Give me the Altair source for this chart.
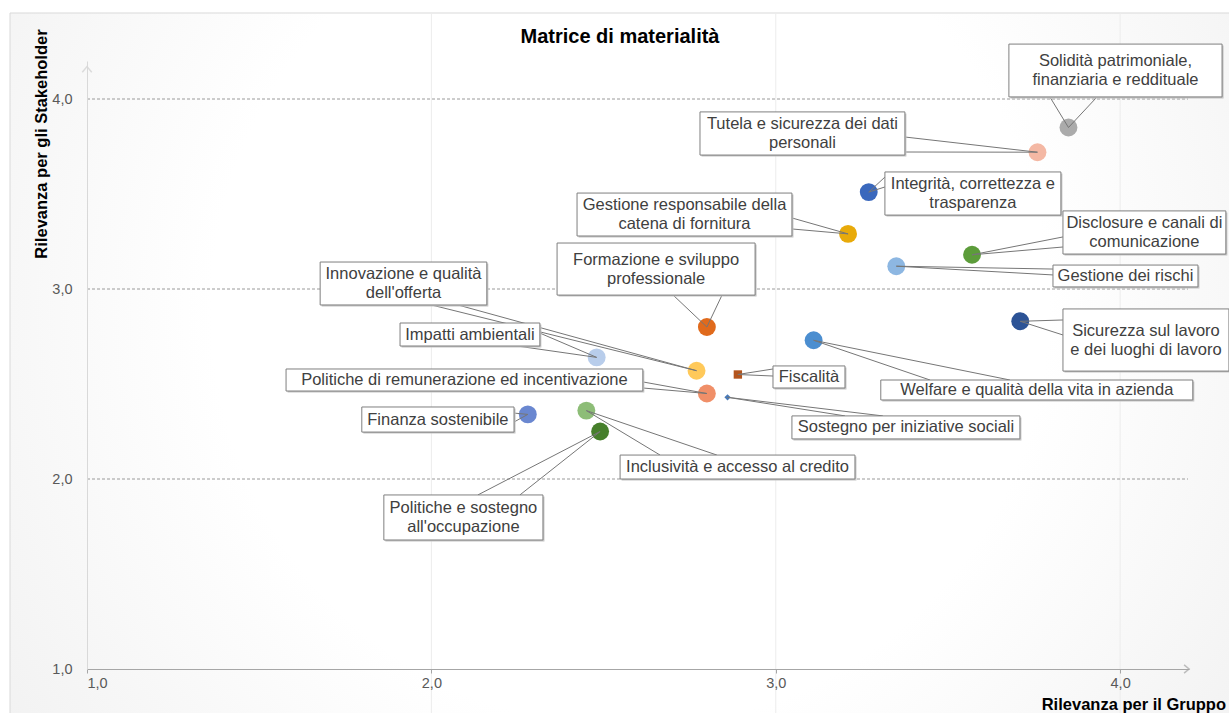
import altair as alt
import pandas as pd

# ---------------- data ----------------
topics = [
    "Solidità patrimoniale, finanziaria e reddituale",
    "Tutela e sicurezza dei dati personali",
    "Integrità, correttezza e trasparenza",
    "Gestione responsabile della catena di fornitura",
    "Disclosure e canali di comunicazione",
    "Gestione dei rischi",
    "Formazione e sviluppo professionale",
    "Sicurezza sul lavoro e dei luoghi di lavoro",
    "Welfare e qualità della vita in azienda",
    "Innovazione e qualità dell'offerta",
    "Impatti ambientali",
    "Fiscalità",
    "Politiche di remunerazione ed incentivazione",
    "Sostegno per iniziative sociali",
    "Finanza sostenibile",
    "Inclusività e accesso al credito",
    "Politiche e sostegno all'occupazione",
]
label_text = [
    "Solidità patrimoniale,\nfinanziaria e reddituale",
    "Tutela e sicurezza dei dati\npersonali",
    "Integrità,  correttezza e\ntrasparenza",
    "Gestione responsabile della\ncatena di fornitura",
    "Disclosure e canali di\ncomunicazione",
    "Gestione dei rischi",
    "Formazione e sviluppo\nprofessionale",
    "Sicurezza sul lavoro\ne dei luoghi di lavoro",
    "Welfare e qualità della vita in azienda",
    "Innovazione  e qualità\ndell'offerta",
    "Impatti ambientali",
    "Fiscalità",
    "Politiche di remunerazione ed incentivazione",
    "Sostegno per iniziative  sociali",
    "Finanza sostenibile",
    "Inclusività  e accesso al credito",
    "Politiche e sostegno\nall'occupazione",
]
rilevanza_gruppo = [3.85, 3.76, 3.27, 3.21, 3.57, 3.35, 2.80, 3.71, 3.11,
                    2.77, 2.48, 2.89, 2.80, 2.86, 2.28, 2.45, 2.49]
rilevanza_stakeholder = [3.85, 3.72, 3.51, 3.29, 3.18, 3.12, 2.80, 2.83, 2.73,
                         2.57, 2.64, 2.55, 2.45, 2.43, 2.34, 2.36, 2.25]

tick_values = [1, 2, 3, 4]
grid_values = [2, 3, 4]

# ---------------- styles ----------------
point_colors = ["#ababab", "#f4b8a4", "#3a68bd", "#e8aa0a", "#5c9c3a", "#8db7e2",
                "#e06a1c", "#2c5396", "#4b8ed0", "#ffc95a", "#b8cdeb", "#b3541d",
                "#f08f68", "#4a7ab8", "#6a87d0", "#8dbd77", "#467f2b"]
point_shapes = ["circle"] * 11 + ["square", "circle", "diamond", "circle", "circle", "circle"]
point_sizes = [320] * 11 + [70, 320, 40, 320, 320, 320]

# ---------------- callout layout (data units) ----------------
box_left = [3.677, 2.780, 3.317, 2.423, 3.834, 3.805, 2.365, 3.834, 3.305,
            1.677, 1.909, 2.992, 1.578, 3.047, 1.798, 2.548, 1.862]
box_right = [4.296, 3.375, 3.828, 3.047, 4.307, 4.226, 2.940, 4.316, 4.211,
             2.161, 2.315, 3.201, 2.614, 3.709, 2.240, 3.230, 2.324]
box_top = [4.289, 3.932, 3.616, 3.505, 3.411, 3.126, 3.242, 2.895, 2.521,
           3.142, 2.821, 2.595, 2.579, 2.332, 2.379, 2.126, 1.916]
box_bottom = [4.011, 3.705, 3.389, 3.279, 3.184, 3.011, 2.968, 2.568, 2.416,
              2.916, 2.700, 2.479, 2.463, 2.211, 2.247, 2.000, 1.679]
wedge_a_x = [3.796, 3.375, 3.317, 3.047, 3.834, 3.805, 2.702, 3.834, 3.448,
             2.000, 2.315, 2.992, 2.614, 3.201, 2.240, 2.664, 2.135]
wedge_a_y = [4.011, 3.800, 3.589, 3.374, 3.274, 3.105, 2.968, 2.837, 2.521,
             2.916, 2.768, 2.579, 2.511, 2.332, 2.347, 2.126, 1.916]
wedge_b_x = [3.933, 3.375, 3.317, 3.047, 3.834, 3.805, 2.844, 3.834, 3.680,
             2.077, 2.249, 2.992, 2.614, 3.311, 2.240, 2.829, 2.257]
wedge_b_y = [4.011, 3.721, 3.537, 3.316, 3.221, 3.074, 2.968, 2.758, 2.521,
             2.916, 2.700, 2.542, 2.479, 2.332, 2.300, 2.126, 1.916]

W, H = 1102, 608
FONT = "Liberation Sans"
LABEL_SIZE = 16.5
LINE_H = 19

pts = pd.DataFrame({
    "topic": topics, "x": rilevanza_gruppo, "y": rilevanza_stakeholder,
    "color": point_colors, "shape": point_shapes, "size": point_sizes,
})
boxes = pd.DataFrame({
    "topic": topics, "label": label_text,
    "x0": box_left, "x1": box_right, "yt": box_top, "yb": box_bottom,
})
boxes["cx"] = (boxes["x0"] + boxes["x1"]) / 2
boxes["cy"] = (boxes["yt"] + boxes["yb"]) / 2
boxes["nlines"] = boxes["label"].str.count("\n") + 1

rows = []
for i in range(len(topics)):
    rows.append({"bx": wedge_a_x[i], "by": wedge_a_y[i], "px": rilevanza_gruppo[i], "py": rilevanza_stakeholder[i]})
    rows.append({"bx": wedge_b_x[i], "by": wedge_b_y[i], "px": rilevanza_gruppo[i], "py": rilevanza_stakeholder[i]})
leaders = pd.DataFrame(rows)

xs = alt.Scale(domain=[1, 4.2], nice=False, zero=False)
ys = alt.Scale(domain=[1, 4.2], nice=False, zero=False)
lab = "replace(format(datum.value, '.1f'), '.', ',')"
x_axis = alt.Axis(values=tick_values, labelExpr=lab, title=None, grid=False,
                  domainColor="#a6a6a6", tickColor="#a6a6a6", tickSize=4,
                  labelFont=FONT, labelFontSize=14.5, labelColor="#595959",
                  labelPadding=3, zindex=1)
y_axis = alt.Axis(values=tick_values, labelExpr=lab, title=None, grid=False,
                  domainColor="#d9d9d9", ticks=False,
                  labelFont=FONT, labelFontSize=14.5, labelColor="#595959",
                  labelPadding=15, zindex=1)

def X(f):
    return alt.X(f, type="quantitative", scale=xs, axis=x_axis)

def Y(f):
    return alt.Y(f, type="quantitative", scale=ys, axis=y_axis)

dummy = pd.DataFrame({"d": [0]})

grad = alt.RadialGradient(
    gradient="radial", x1=0.5, y1=0.45, r1=0, x2=0.5, y2=0.45, r2=0.75,
    stops=[alt.GradientStop(color="#ffffff", offset=0),
           alt.GradientStop(color="#ffffff", offset=0.45),
           alt.GradientStop(color="#ebebeb", offset=1)],
)
bg = alt.Chart(dummy).mark_rect(fill=grad, stroke="#d9d9d9", strokeWidth=1).encode(
    x=alt.value(-77), x2=alt.value(W + 60), y=alt.value(-48), y2=alt.value(H + 60))

gdf = pd.DataFrame({"v": grid_values})
vgrid = alt.Chart(gdf).mark_rule(color="#ececec", strokeWidth=1).encode(
    x=X("v"), y=alt.value(-48), y2=alt.value(H + 44))
hgrid = alt.Chart(gdf).mark_rule(color="#9a9a9a", strokeWidth=1, strokeDash=[3, 2]).encode(
    y=Y("v"), x=alt.value(0), x2=alt.value(W - 1))

points = alt.Chart(pts).mark_point(filled=True, opacity=1, strokeWidth=0).encode(
    x=X("x"), y=Y("y"),
    color=alt.Color("color:N", scale=None),
    shape=alt.Shape("shape:N", scale=None),
    size=alt.Size("size:Q", scale=None),
)

lines = alt.Chart(leaders).mark_rule(color="#767676", strokeWidth=1).encode(
    x=X("bx"), y=Y("by"), x2="px:Q", y2="py:Q")

shadow = alt.Chart(boxes).mark_rect(fill="#c4c4c4", xOffset=1.5, x2Offset=1.5,
                                    yOffset=1.5, y2Offset=1.5).encode(
    x=X("x0"), x2="x1:Q", y=Y("yt"), y2="yb:Q")
box = alt.Chart(boxes).mark_rect(fill="white", stroke="#7f7f7f", strokeWidth=1).encode(
    x=X("x0"), x2="x1:Q", y=Y("yt"), y2="yb:Q")

text_style = dict(font=FONT, fontSize=LABEL_SIZE, color="#404040", lineBreak="\n",
                  lineHeight=LINE_H, align="center", baseline="middle")
texts1 = alt.Chart(boxes).transform_filter("datum.nlines == 1").mark_text(**text_style).encode(
    x=X("cx"), y=Y("cy"), text="label:N")
texts2 = alt.Chart(boxes).transform_filter("datum.nlines == 2").mark_text(
    dy=-LINE_H / 2, **text_style).encode(
    x=X("cx"), y=Y("cy"), text="label:N")

title = alt.Chart(dummy).mark_text(text="Matrice di materialità", font=FONT, fontSize=20,
                                   fontWeight="bold", color="#000000",
                                   align="center", baseline="middle").encode(
    x=alt.value(533), y=alt.value(-24))
ytitle = alt.Chart(dummy).mark_text(text="Rilevanza per gli Stakeholder", font=FONT,
                                    fontSize=16.5, fontWeight="bold", color="#000000",
                                    angle=270, align="center", baseline="middle").encode(
    x=alt.value(-45), y=alt.value(83))
xtitle = alt.Chart(dummy).mark_text(text="Rilevanza per il Gruppo", font=FONT,
                                    fontSize=16.5, fontWeight="bold", color="#000000",
                                    align="right", baseline="middle").encode(
    x=alt.value(W + 37), y=alt.value(H + 36))

up_arrow = alt.Chart(dummy).mark_point(shape="M-1,0.7 L0,-0.5 L1,0.7", filled=False,
                                       stroke="#d0d0d0", strokeWidth=1.5, size=90).encode(
    x=alt.value(0), y=alt.value(8))
right_arrow = alt.Chart(dummy).mark_point(shape="M-0.7,-1 L0.5,0 L-0.7,1", filled=False,
                                          stroke="#a6a6a6", strokeWidth=1.5, size=70).encode(
    x=alt.value(W - 2), y=alt.value(H))

chart = alt.layer(
    bg, vgrid, hgrid, points, lines, shadow, box, texts1, texts2,
    title, ytitle, xtitle, up_arrow, right_arrow,
).properties(
    width=W, height=H,
    padding={"left": 87, "top": 61, "right": 40, "bottom": 44},
    autosize=alt.AutoSizeParams(type="none"),
    background="white",
).configure_view(stroke=None)

chart.save("out.html", embed_options={"renderer": "svg", "actions": False})
